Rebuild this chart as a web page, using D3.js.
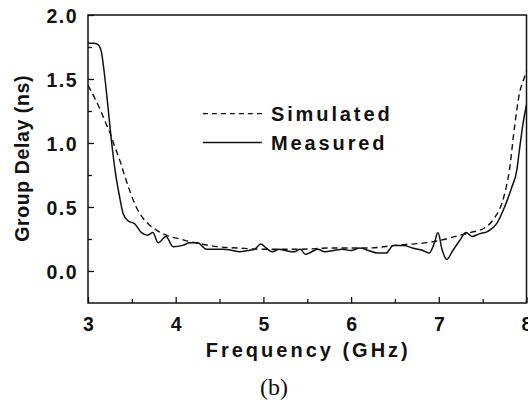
<!DOCTYPE html>
<meta charset="utf-8">
<script src="https://d3js.org/d3.v7.min.js"></script>
<style>
  body { margin: 0; background: #fff; }
  text { font-family: Arial, "Liberation Sans", sans-serif; font-weight: bold; fill: #111; }
</style>
<div class="canvas"></div>
<script>
    const width = 528
    const height = 402
    let margin = {"top": 15, "right": 1, "bottom": 98, "left": 88};
    const graphWidth = width - margin.left - margin.right
    const graphHeight = height - margin.top - margin.bottom

    const xTicks = [3, 4, 5, 6, 7, 8]
    const yTicks = [0.0, 0.5, 1.0, 1.5, 2.0]
    const seriesNames = ["Simulated", "Measured"]

    const simFreq = [3.00, 3.07, 3.14, 3.20, 3.25, 3.30, 3.36, 3.42, 3.48, 3.55, 3.63, 3.70, 3.78, 3.86, 3.93, 4.05, 4.16, 4.30, 4.47, 4.70, 5.00, 5.40, 5.80, 6.20, 6.50, 6.84, 7.02, 7.19, 7.36, 7.53, 7.64, 7.72, 7.77, 7.81, 7.85, 7.89, 7.92, 7.96, 8.00]
    const simDelay = [1.45, 1.36, 1.26, 1.16, 1.08, 0.98, 0.87, 0.74, 0.62, 0.50, 0.41, 0.36, 0.32, 0.29, 0.27, 0.25, 0.23, 0.21, 0.19, 0.18, 0.17, 0.17, 0.18, 0.18, 0.20, 0.22, 0.24, 0.27, 0.30, 0.34, 0.42, 0.53, 0.66, 0.81, 1.05, 1.26, 1.39, 1.48, 1.56]

    const measFreq = [3.00, 3.06, 3.11, 3.15, 3.18, 3.21, 3.24, 3.27, 3.31, 3.36, 3.40, 3.46, 3.53, 3.61, 3.68, 3.74, 3.80, 3.89, 3.97, 4.08, 4.16, 4.25, 4.35, 4.45, 4.55, 4.65, 4.73, 4.82, 4.90, 4.97, 5.03, 5.10, 5.18, 5.25, 5.35, 5.42, 5.48, 5.55, 5.62, 5.70, 5.80, 5.90, 6.00, 6.10, 6.20, 6.30, 6.40, 6.48, 6.60, 6.70, 6.82, 6.89, 6.95, 6.99, 7.04, 7.09, 7.16, 7.24, 7.31, 7.38, 7.46, 7.56, 7.66, 7.75, 7.83, 7.89, 7.92, 7.96, 8.00]
    const measDelay = [1.78, 1.78, 1.77, 1.72, 1.58, 1.40, 1.20, 1.00, 0.78, 0.58, 0.45, 0.39, 0.37, 0.30, 0.28, 0.30, 0.22, 0.27, 0.19, 0.20, 0.22, 0.22, 0.17, 0.17, 0.17, 0.16, 0.15, 0.16, 0.17, 0.21, 0.18, 0.15, 0.17, 0.16, 0.15, 0.17, 0.13, 0.15, 0.17, 0.15, 0.16, 0.17, 0.16, 0.18, 0.16, 0.14, 0.14, 0.20, 0.20, 0.18, 0.16, 0.14, 0.22, 0.30, 0.16, 0.09, 0.16, 0.24, 0.30, 0.27, 0.29, 0.31, 0.37, 0.50, 0.65, 0.79, 0.95, 1.15, 1.30]

    const svg = d3.select(".canvas")
                .append("svg")
                .attr("width", width)
                .attr("height", height)

    const graph = svg.append("g")
                    .attr("transform", `translate(${margin.left},${margin.top})`)

    const x = d3.scaleLinear()
                .domain([3, 8])
                .range([0, 438.5])

    const y = d3.scaleLinear()
                .domain([-0.25, 2.0])
                .range([graphHeight - 1, 0])

    const clip = graph.append("clipPath").attr("id", "plotclip")
    clip.append("rect").attr("width", x(8)).attr("height", y(-0.25))

    const line = d3.line()
                .x(d => x(d[0]))
                .y(d => y(d[1]))
                .curve(d3.curveMonotoneX)

    const sim = d3.zip(simFreq, simDelay)
    const meas = d3.zip(measFreq, measDelay)

    graph.append("path")
        .datum(sim)
        .attr("clip-path", "url(#plotclip)")
        .attr("fill", "none")
        .attr("stroke", "#111")
        .attr("stroke-width", 1.4)
        .attr("stroke-dasharray", "6,4")
        .attr("d", line)

    graph.append("path")
        .datum(meas)
        .attr("clip-path", "url(#plotclip)")
        .attr("fill", "none")
        .attr("stroke", "#111")
        .attr("stroke-width", 1.5)
        .attr("d", line)

    // axes with inward ticks
    const isMajor = d => Math.abs(d * 2 - Math.round(d * 2)) < 1e-6
    const xAxis = d3.axisBottom(x)
                    .tickValues(d3.range(3, 8.01, 0.5))
                    .tickSize(-6)
                    .tickFormat(d => xTicks.includes(d) ? d : "")
    const yAxis = d3.axisLeft(y)
                    .tickValues(d3.range(-0.25, 2.01, 0.25).filter(d => d > -0.2))
                    .tickSize(-6)
                    .tickFormat(d => isMajor(d) ? d.toFixed(1) : "")

    const gXAxis = graph.append("g")
                    .attr("transform", `translate(0,${y(-0.25)})`)
                    .call(xAxis)
    const gYAxis = graph.append("g").call(yAxis)

    ;[gXAxis, gYAxis].forEach(g => {
        g.select(".domain").remove()
        g.selectAll(".tick line").attr("stroke", "#111").attr("stroke-width", 1.3)
        g.selectAll("text")
            .style("font-size", "19.5px")
            .style("letter-spacing", "1.5px")
            .attr("fill", "#111")
    })
    gXAxis.selectAll(".tick line").filter(d => !xTicks.includes(d)).attr("y2", -4)
    gYAxis.selectAll(".tick line").filter(d => !isMajor(d)).attr("x2", 4)
    gXAxis.selectAll("text").attr("y", 28).attr("dy", 0).attr("dx", "0.75px")
    gYAxis.selectAll("text").attr("x", -10).attr("dy", "0.36em")

    // frame
    graph.append("rect")
        .attr("x", 0).attr("y", 0)
        .attr("width", x(8)).attr("height", y(-0.25))
        .attr("fill", "none")
        .attr("stroke", "#111")
        .attr("stroke-width", 1.5)

    // legend
    const legend = graph.append("g").attr("transform", `translate(${x(4.31)},${y(1.23)})`)
    seriesNames.forEach((name, i) => {
        legend.append("line")
            .attr("x1", 0).attr("x2", 59)
            .attr("y1", i * 29).attr("y2", i * 29)
            .attr("stroke", "#111")
            .attr("stroke-width", i ? 1.5 : 1.3)
            .attr("stroke-dasharray", i ? null : "5,4")
        legend.append("text")
            .attr("x", 68).attr("y", i * 29)
            .attr("dy", "0.36em")
            .style("font-size", "20px")
            .style("letter-spacing", "2.9px")
            .text(name)
    })

    // axis titles
    svg.append("text")
        .attr("x", margin.left + x(5.5) + 1)
        .attr("y", 357)
        .attr("text-anchor", "middle")
        .style("font-size", "20px")
        .style("letter-spacing", "3px")
        .text("Frequency (GHz)")

    svg.append("text")
        .attr("transform", `translate(29,${margin.top + y(0.88)}) rotate(-90)`)
        .attr("text-anchor", "middle")
        .style("font-size", "19.5px")
        .style("letter-spacing", "0.6px")
        .text("Group Delay (ns)")

    svg.append("text")
        .attr("x", 274)
        .attr("y", 395)
        .attr("text-anchor", "middle")
        .style("font-family", "'Liberation Serif', 'Times New Roman', serif")
        .style("font-weight", "normal")
        .style("font-size", "24px")
        .text("(b)")
</script>
